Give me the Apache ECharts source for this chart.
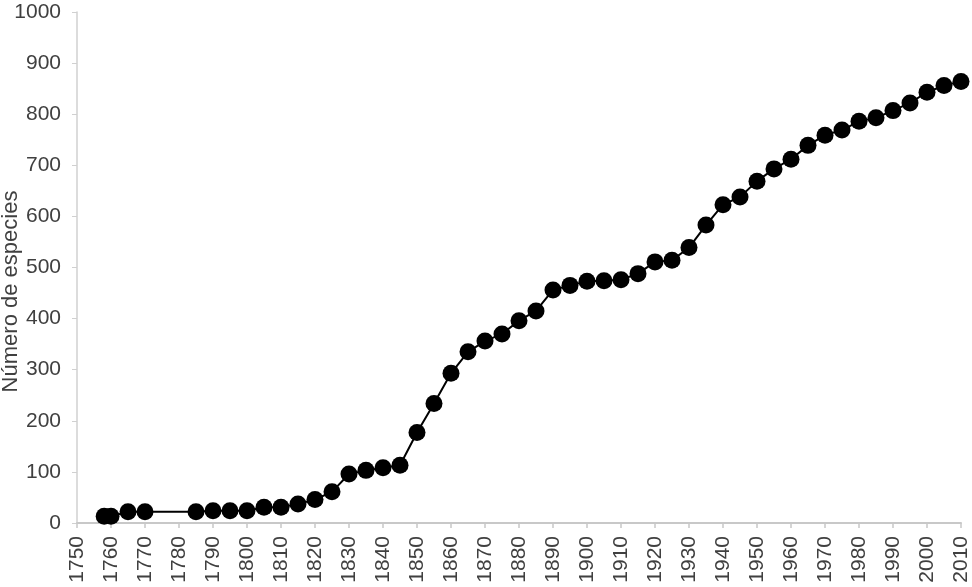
<!DOCTYPE html>
<html>
<head>
<meta charset="utf-8">
<script src="https://cdn.jsdelivr.net/npm/echarts@6/dist/echarts.min.js"></script>
<style>
  html, body { margin: 0; padding: 0; background: #fff; }
  #chart { width: 972px; height: 587px; }
</style>
</head>
<body>
<div id="chart"></div>
<script>
// años de descripción y número acumulado de especies
const years = [1758, 1760, 1765, 1770, 1785, 1790, 1795, 1800, 1805, 1810,
  1815, 1820, 1825, 1830, 1835, 1840, 1845, 1850, 1855, 1860,
  1865, 1870, 1875, 1880, 1885, 1890, 1895, 1900, 1905, 1910,
  1915, 1920, 1925, 1930, 1935, 1940, 1945, 1950, 1955, 1960,
  1965, 1970, 1975, 1980, 1985, 1990, 1995, 2000, 2005, 2010];
const species = [13, 13, 22, 22, 22, 24, 24, 24, 31, 31,
  37, 46, 61, 96, 103, 108, 113, 177, 234, 293,
  335, 356, 370, 396, 415, 456, 465, 473, 474, 476,
  488, 511, 514, 539, 583, 623, 638, 669, 693, 712,
  739, 759, 769, 786, 793, 807, 822, 843, 856, 864];
const yTitle = 'Número de especies';

const chart = echarts.init(document.getElementById('chart'));
const font = 'Liberation Sans, Arial, sans-serif';
const plain = v => String(v);

chart.setOption({
  animation: false,
  grid: { left: 77, right: 11, top: 12, bottom: 64, containLabel: false, outerBoundsMode: 'none' },
  xAxis: {
    type: 'value',
    min: 1750,
    max: 2010,
    interval: 10,
    splitLine: { show: false },
    axisLine: { lineStyle: { color: '#c8c8c8', width: 2 } },
    axisTick: { show: true, length: 5, lineStyle: { color: '#c8c8c8', width: 1.5 } },
    axisLabel: { rotate: 90, color: '#404040', fontSize: 21, fontFamily: font, margin: 13, formatter: plain }
  },
  yAxis: {
    type: 'value',
    min: 0,
    max: 1000,
    interval: 100,
    name: yTitle,
    nameLocation: 'middle',
    nameGap: 55,
    nameMoveOverlap: false,
    nameTextStyle: { color: '#404040', fontSize: 22, fontFamily: font, padding: [0, 48, 0, 0] },
    splitLine: { show: false },
    axisLine: { show: true, lineStyle: { color: '#d0d0d0', width: 1.5 } },
    axisTick: { show: true, length: 5, lineStyle: { color: '#d0d0d0' } },
    axisLabel: { color: '#404040', fontSize: 21, fontFamily: font, margin: 16, formatter: plain }
  },
  series: [{
    type: 'line',
    data: years.map((y, i) => [y, species[i]]),
    symbol: 'circle',
    symbolSize: 17,
    clip: false,
    lineStyle: { color: '#000', width: 2 },
    itemStyle: { color: '#000' }
  }]
});
</script>
</body>
</html>
